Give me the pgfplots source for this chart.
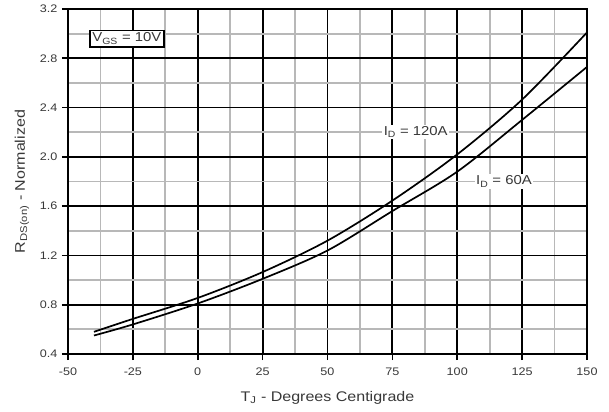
\documentclass[border=0pt]{standalone}
\usepackage{pgfplots}
\pgfplotsset{compat=1.18}
\usepackage{fontspec}
\setmainfont[FakeStretch=1.15]{Liberation Sans}
\definecolor{txt}{gray}{0.22}
\definecolor{minorgrid}{gray}{0.72}
\begin{document}
\begin{tikzpicture}
\path[use as bounding box] (-68bp,-58bp) rectangle (541bp,354bp);
\begin{axis}[
  at={(0,0)}, anchor=south west,
  scale only axis, width=519bp, height=345bp,
  xmin=-50, xmax=150, ymin=0.4, ymax=3.2,
  xtick={-50,-25,...,150},
  ytick={0.4,0.8,...,3.2},
  minor xtick={-37.5,-12.5,...,137.5},
  minor ytick={0.6,1.0,...,3.0},
  yticklabel style={/pgf/number format/fixed,/pgf/number format/fixed zerofill,/pgf/number format/precision=1},
  /pgf/number format/assume math mode=true,
  tick label style={font=\fontsize{11}{13}\selectfont, text=txt},
  xticklabel style={yshift=-4bp},
  yticklabel style={xshift=-1bp},
  grid=both,
  major grid style={black, line width=1.8bp},
  minor grid style={minorgrid, line width=1.8bp},
  axis line style={black, line width=2bp},
  tick style={black, line width=1.6bp},
  minor tick length=0pt,
  major tick length=6bp,
  tick align=outside,
  xtick pos=bottom, ytick pos=left,
  xlabel={T\textsubscript{J} - Degrees Centigrade},
  ylabel={R\textsubscript{DS(on)} - Normalized},
  label style={font=\fontsize{14}{16}\selectfont, text=txt},
  xlabel style={yshift=-9bp},
  ylabel style={yshift=4bp},
]
\addplot[black, line width=1.7bp, smooth] coordinates {
  (-40,0.58) (-25,0.685) (0,0.855) (25,1.065) (50,1.32) (75,1.645) (100,2.02) (125,2.465) (150,3.01)
};
\addplot[black, line width=1.7bp, smooth] coordinates {
  (-40,0.55) (-25,0.64) (0,0.81) (25,1.01) (50,1.24) (75,1.56) (100,1.88) (125,2.30) (150,2.73)
};
\node[fill=white, inner sep=1.5bp, text=txt, font=\fontsize{13}{15}\selectfont] at (axis cs:84,2.2) {I\textsubscript{D} = 120A};
\node[fill=white, inner sep=1.5bp, text=txt, font=\fontsize{13}{15}\selectfont] at (axis cs:118,1.8) {I\textsubscript{D} = 60A};
\node[fill=white, draw=black, line width=1.6bp, inner sep=2.5bp, text=txt, font=\fontsize{13}{15}\selectfont] at (axis cs:-27.3,2.96) {V\textsubscript{GS} = 10V};
\end{axis}
\end{tikzpicture}
\end{document}
